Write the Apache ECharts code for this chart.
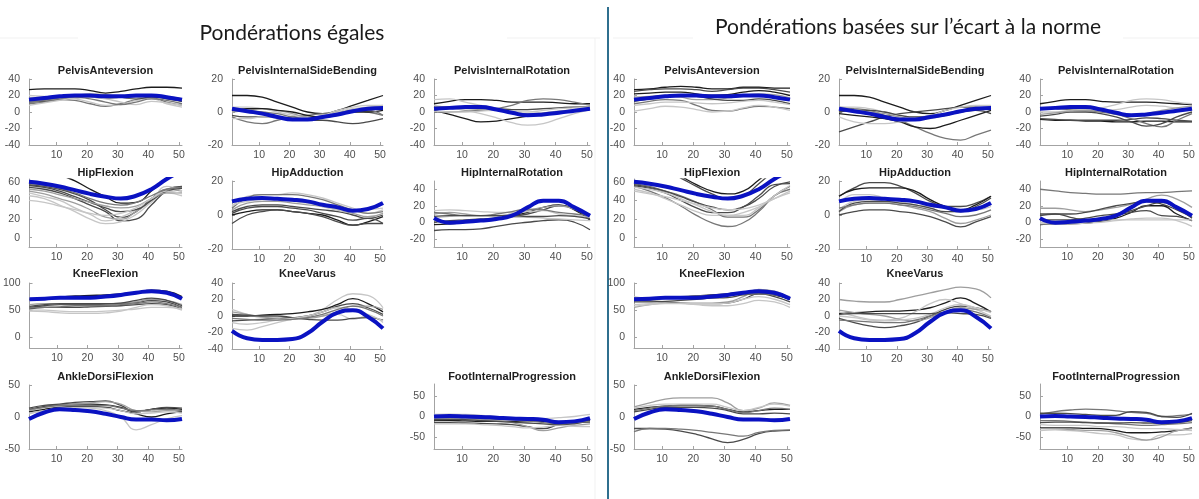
<!DOCTYPE html>
<html><head><meta charset="utf-8">
<script src="https://cdn.jsdelivr.net/npm/echarts@6/dist/echarts.min.js"></script>
<style>html,body{margin:0;padding:0;background:#fff}#c{width:1199px;height:499px}</style>
</head><body><div id="c"></div>
<script>
// ---------------- DATA ----------------
const X = [1, 6, 11, 16, 21, 26, 31, 36, 41, 46, 51];
const X_TICKS = [10, 20, 30, 40, 50];
const TITLE_LEFT = 'Pondérations égales';
const TITLE_RIGHT = 'Pondérations basées sur l’écart à la norme';

// reference (blue) curves, identical in both panels
const BLUE_PELVIS_ANT  = [15, 17, 19, 20, 20, 19, 19, 20, 20, 18, 15];
const BLUE_PELVIS_SIDE = [2, 0.5, -1, -3, -4.5, -4.5, -3, -1.5, 0.5, 2, 2.5];
const BLUE_PELVIS_ROT  = [4, 5, 6, 6, 3, -1, -4, -3, -1, 1.5, 4];
const BLUE_HIP_FLEX    = [60, 58, 55, 51, 47, 44, 42, 45, 52, 63, 72];
const BLUE_HIP_ADD     = [8, 9.5, 10, 9.5, 9, 8, 6, 4.5, 2.5, 3.5, 7];
const BLUE_HIP_ROT     = [5, -0.5, 0.5, 2, 4, 8, 18, 26, 26, 18, 8];
const BLUE_KNEE_FLEX   = [70, 71, 73, 73, 73, 75, 78, 82, 85, 82, 71];
const BLUE_KNEE_VAR    = [-18, -27, -29, -29, -28, -21, -7, 4, 7, -1, -15];
const BLUE_ANKLE       = [-3, 7, 12, 11, 9, 5, 0, -4, -4, -5, -3];
const BLUE_FOOT        = [0, 1, 0, -1, -3, -5, -6, -8, -14, -12, -4];

// ---- left panel (equal weights) gray curves ----
const L_PELVIS_ANT = [
  [27, 28, 28, 28, 26, 23, 25, 28, 30, 30, 29],
  [12, 13, 15, 17, 18, 17, 18, 20, 20, 17, 13],
  [10, 12, 15, 14, 10, 7, 10, 15, 17, 12, 8],
  [20, 19, 18, 16, 12, 8, 9, 14, 16, 10, 6],
  [14, 15, 17, 19, 20, 20, 18, 16, 18, 16, 13],
  [17, 17, 18, 20, 22, 21, 18, 17, 20, 19, 16],
  [8, 11, 14, 17, 18, 16, 12, 9, 13, 11, 8],
  [12, 14, 17, 18, 16, 12, 9, 12, 16, 14, 10]];
const L_PELVIS_SIDE = [
  [10, 10, 9, 6, 3, 0, -1, 1, 4, 7, 10],
  [-3, -6, -7, -5, -3, -2, -1, 0, 1, 0, -2],
  [-2, -3, -3, -3, -4, -5, -5, -6, -7, -6, -4],
  [3, 3, 2, 0, -2, -3, -2, 1, 3, 4, 4],
  [0, 1, 2, 1, -1, -3, -3, -1, 1, 2, 3],
  [-4, -4, -3, -3, -4, -4, -3, 0, 2, 3, 4],
  [1, 2, 2, 1, 0, -2, -3, -2, 0, 0, 1],
  [2, 1, 0, -1, -3, -4, -3, -1, 1, 1, -2]];
const L_PELVIS_ROT = [
  [10, 13, 15, 15, 14, 12, 12, 12, 11, 10, 10],
  [2, -3, -8, -12, -11, -8, -5, -3, -1, 2, 4],
  [8, 5, 2, -2, -7, -13, -16, -14, -8, -2, 3],
  [0, 0, 1, 2, 4, 8, 14, 16, 15, 12, 8],
  [15, 16, 12, 8, 5, 3, 3, 4, 5, 6, 7],
  [3, 4, 4, 3, 2, 0, -2, -1, 1, 3, 5],
  [6, 6, 5, 5, 4, 3, 3, 4, 5, 6, 6],
  [1, 0, 0, 1, 2, 1, 0, 2, 4, 5, 6]];
const L_HIP_FLEX = [
  [57, 55, 52, 47, 40, 30, 22, 28, 42, 52, 55],
  [54, 52, 48, 42, 35, 28, 18, 20, 35, 50, 54],
  [50, 47, 42, 37, 30, 22, 20, 28, 40, 52, 50],
  [45, 42, 35, 28, 20, 15, 17, 25, 38, 48, 45],
  [48, 44, 40, 32, 25, 18, 22, 30, 40, 55, 50],
  [56, 54, 50, 44, 38, 32, 28, 30, 40, 50, 53],
  [90, 78, 68, 61, 52, 44, 37, 38, 50, 65, 80],
  [52, 50, 46, 42, 38, 34, 32, 34, 42, 48, 48],
  [40, 38, 34, 30, 26, 24, 26, 32, 42, 50, 47],
  [58, 56, 53, 48, 42, 37, 35, 38, 45, 52, 54]];
const L_HIP_ADD = [
  [5, 11, 12, 12, 13, 12, 10, 7, 4, 1, 3],
  [4, 10, 12, 12, 12, 11, 9, 6, 3, 1, 2],
  [2, 5, 6, 6, 5, 4, 3, 2, 0, -2, 0],
  [0, 2, 3, 3, 2, 1, 0, -3, -6, -4, -1],
  [-5, 0, 2, 3, 2, 1, -1, -4, -6, -5, -5],
  [3, 7, 8, 8, 7, 6, 5, 3, 1, -1, 1],
  [6, 8, 9, 9, 8, 7, 5, 3, 2, 3, 4],
  [1, 4, 5, 5, 4, 3, 1, -1, -3, -2, -5]];
const L_HIP_ROT = [
  [-10, -9, -9, -8, -5, -2, 0, 2, 3, 0, -9],
  [-3, -2, 0, 2, 5, 8, 12, 18, 21, 15, 3],
  [0, 2, 3, 4, 5, 7, 10, 15, 20, 16, 2],
  [10, 12, 10, 8, 8, 10, 14, 18, 20, 16, 10],
  [14, 15, 14, 13, 12, 12, 13, 14, 10, 8, 6],
  [5, 7, 8, 8, 7, 6, 6, 5, 4, 3, 2],
  [12, 10, 8, 8, 10, 13, 16, 15, 12, 10, 8],
  [7, 8, 8, 8, 8, 8, 7, 7, 8, 7, 4]];
const L_KNEE_FLEX = [
  [70, 71, 74, 76, 77, 78, 80, 83, 87, 85, 75],
  [55, 58, 60, 60, 60, 61, 62, 64, 68, 65, 55],
  [52, 55, 55, 55, 56, 57, 58, 60, 62, 60, 52],
  [60, 62, 62, 62, 62, 62, 63, 65, 70, 68, 60],
  [48, 47, 45, 44, 44, 45, 48, 55, 60, 58, 50],
  [50, 50, 48, 47, 47, 48, 50, 52, 55, 55, 52],
  [54, 55, 56, 58, 58, 58, 60, 62, 65, 62, 55],
  [57, 60, 62, 62, 62, 62, 63, 68, 72, 68, 58]];
const L_KNEE_VAR = [
  [8, 2, -2, -3, -2, 0, 8, 20, 27, 25, 10],
  [0, 0, 1, 2, 3, 5, 8, 14, 21, 15, 5],
  [-6, -5, -4, -3, -2, 0, 5, 12, 15, 10, 2],
  [-15, -17, -13, -8, -4, -2, 0, 2, -4, 0, -8],
  [5, 2, -1, -3, -4, -3, 0, 5, 12, 12, 8],
  [2, 1, 0, 0, -2, -4, -5, -5, -3, -2, -5],
  [-8, -10, -8, -5, -3, 0, 5, 10, 8, 2, -6],
  [-3, -4, -5, -5, -4, -2, 2, 8, 12, 8, 0]];
const L_ANKLE = [
  [5, 10, 14, 15, 14, 10, 0, -20, -12, -3, 2],
  [12, 16, 19, 20, 20, 19, 15, 8, 12, 14, 12],
  [14, 18, 20, 23, 24, 25, 18, 8, 12, 15, 14],
  [10, 15, 18, 20, 22, 24, 20, 10, 8, 10, 9],
  [8, 12, 15, 16, 16, 15, 10, 5, 0, 5, 8],
  [6, 10, 14, 15, 15, 14, 10, 5, 6, 8, 6],
  [12, 15, 18, 18, 18, 18, 14, 10, 11, 12, 10]];
const L_FOOT = [
  [5, 6, 5, 3, 0, -3, -5, -5, -3, 0, 5],
  [-10, -10, -11, -12, -12, -12, -11, -12, -14, -12, -10],
  [-15, -15, -16, -17, -18, -20, -25, -30, -20, -16, -14],
  [-5, -5, -6, -8, -10, -15, -25, -35, -28, -22, -18],
  [-18, -18, -18, -20, -22, -25, -28, -26, -22, -24, -25],
  [-8, -7, -8, -10, -12, -14, -16, -18, -20, -18, -8],
  [-3, -2, -3, -5, -7, -8, -10, -15, -18, -15, -12]];

// ---- right panel (norm-deviation weights) gray curves ----
const R_PELVIS_ANT = [
  [27, 28, 30, 31, 30, 28, 28, 30, 30, 29, 29],
  [25, 27, 28, 28, 27, 25, 27, 29, 29, 27, 24],
  [10, 13, 15, 14, 8, 2, 1, 4, 7, 6, 4],
  [1, 4, 7, 6, 3, 0, 1, 5, 8, 6, 2],
  [18, 19, 20, 18, 15, 15, 17, 20, 22, 21, 17],
  [13, 16, 19, 20, 19, 16, 14, 14, 16, 14, 10],
  [22, 23, 24, 24, 22, 20, 21, 24, 26, 24, 20],
  [8, 10, 12, 12, 11, 10, 11, 13, 14, 12, 9]];
const R_PELVIS_SIDE = [
  [10, 10, 9, 6, 3, 0, -1, 1, 4, 7, 10],
  [-12, -9, -6, -3, -1, 0, 1, 2, 3, 3, 2],
  [3, 2, 1, -2, -5, -9, -13, -16, -17, -14, -11],
  [-1, -2, -3, -4, -6, -9, -10, -8, -5, -2, 1],
  [-3, -6, -7, -7, -6, -5, -4, -2, 0, 1, 2],
  [3, 3, 2, 0, -2, -3, -2, 1, 3, 4, 4],
  [0, 1, 1, 0, -2, -3, -3, -2, 0, 1, -1],
  [1, 1, 0, -1, -3, -4, -3, -1, 1, 2, 3]];
const R_PELVIS_ROT = [
  [10, 13, 15, 15, 13, 12, 12, 12, 11, 10, 9],
  [-9, -10, -10, -11, -11, -12, -12, -11, -11, -12, -12],
  [-8, -9, -10, -10, -10, -10, -9, -7, -8, -10, -11],
  [5, 4, 3, 2, 0, -3, -8, -14, -18, -10, -2],
  [0, 0, 2, 3, 5, 9, 14, 16, 15, 12, 10],
  [-5, -3, 0, 0, -2, -6, -12, -17, -14, -6, 0],
  [3, 6, 5, 3, 2, 3, 6, 8, 7, 5, 4],
  [-3, -1, 1, 2, 1, -2, -4, -2, 2, 5, 7]];
const R_HIP_FLEX = [
  [95, 85, 75, 66, 57, 50, 47, 50, 62, 75, 90],
  [92, 82, 72, 64, 55, 47, 42, 45, 58, 72, 85],
  [56, 53, 48, 40, 32, 27, 27, 33, 45, 57, 58],
  [55, 50, 43, 34, 24, 16, 12, 16, 28, 45, 55],
  [52, 48, 42, 35, 28, 24, 24, 27, 33, 42, 50],
  [58, 55, 50, 45, 38, 30, 22, 22, 30, 45, 52],
  [54, 52, 48, 42, 35, 28, 24, 24, 32, 45, 56],
  [57, 54, 50, 44, 38, 33, 30, 33, 42, 55, 60],
  [50, 47, 44, 40, 36, 32, 30, 31, 35, 42, 48]];
const R_HIP_ADD = [
  [11, 16, 19, 19, 17, 13, 8, 5, 5, 7, 11],
  [11, 15, 16, 16, 16, 14, 9, 5, 3, 6, 11],
  [0, 2, 3, 3, 2, 1, -1, -4, -7, -4, -1],
  [2, 6, 7, 7, 6, 4, 2, -2, -5, -3, 0],
  [3, 8, 9, 8, 7, 6, 4, 2, 2, 4, 6],
  [7, 12, 12, 10, 8, 6, 5, 4, 3, 3, 5],
  [2, 7, 8, 8, 7, 6, 4, 2, 2, 5, 10],
  [4, 6, 7, 7, 6, 5, 3, 1, -1, 0, 3]];
const R_HIP_ROT = [
  [40, 38, 36, 35, 34, 34, 35, 36, 36, 37, 38],
  [17, 17, 15, 13, 15, 18, 22, 28, 33, 28, 18],
  [10, 10, 10, 12, 16, 20, 23, 25, 22, 15, 6],
  [-3, -2, -2, -1, 1, 5, 12, 20, 20, 10, 2],
  [8, 10, 6, 3, 4, 8, 12, 14, 8, 7, 2],
  [0, 0, 1, 2, 3, 3, 3, 3, 3, 3, 3],
  [-2, -2, -2, -1, 0, 2, 4, 5, 5, 2, -5],
  [3, 3, 3, 5, 8, 10, 14, 20, 24, 17, 5]];
const R_KNEE_FLEX = [
  [75, 72, 72, 74, 76, 77, 78, 82, 85, 82, 75],
  [55, 60, 63, 63, 63, 63, 65, 75, 88, 85, 70],
  [68, 67, 65, 63, 62, 62, 63, 70, 80, 78, 70],
  [65, 65, 66, 68, 70, 72, 73, 78, 80, 75, 65],
  [60, 62, 63, 63, 62, 62, 63, 70, 75, 70, 60],
  [70, 70, 72, 74, 76, 78, 80, 82, 82, 78, 70],
  [57, 60, 62, 62, 60, 58, 58, 62, 68, 65, 55],
  [72, 72, 73, 75, 76, 77, 78, 80, 80, 78, 72]];
const R_KNEE_VAR = [
  [20, 18, 17, 17, 20, 24, 28, 32, 35, 33, 22],
  [3, 4, 5, 6, 6, 7, 10, 16, 22, 15, 5],
  [-3, -8, -12, -14, -12, -8, 0, 8, 12, 10, 5],
  [5, 0, -4, -5, -3, 5, 15, 20, 15, 8, 0],
  [7, 4, 2, 0, -4, -6, -2, 5, 10, 8, 6],
  [0, -2, -5, -6, -5, -3, 2, 10, 14, 10, 4],
  [2, 3, 3, 3, 3, 3, 3, 4, 3, 2, -3],
  [-5, -6, -7, -8, -8, -5, 0, 5, 8, 5, -2]];
const R_ANKLE = [
  [16, 22, 28, 30, 30, 30, 22, 10, 14, 22, 18],
  [-18, -18, -19, -22, -27, -34, -40, -35, -26, -22, -21],
  [-23, -18, -18, -19, -21, -24, -27, -30, -24, -21, -20],
  [12, 15, 17, 18, 18, 17, 12, 8, 10, 12, 12],
  [8, 12, 15, 15, 15, 14, 10, 5, 5, 6, 5],
  [14, 18, 20, 20, 20, 20, 15, 10, 15, 20, 17],
  [10, 14, 17, 18, 18, 17, 12, 7, 10, 14, 12]];
const R_FOOT = [
  [5, 12, 16, 18, 17, 14, 10, 8, 0, 2, 6],
  [8, 8, 7, 5, 3, 3, 12, 10, 0, -2, 8],
  [-28, -28, -28, -29, -30, -35, -40, -40, -38, -35, -28],
  [-35, -33, -35, -38, -42, -45, -55, -58, -45, -45, -42],
  [-30, -30, -32, -34, -35, -40, -50, -58, -50, -35, -30],
  [-10, -10, -12, -14, -16, -18, -20, -22, -20, -18, -15],
  [-20, -22, -22, -22, -25, -25, -28, -30, -30, -32, -35],
  [-15, -14, -14, -15, -16, -16, -15, -16, -17, -15, -10]];

// ---------------- LAYOUT / STYLE ----------------
const SHADE = {k: '#1c1c1c', d: '#4a4a4a', m: '#777777', g: '#9e9e9e', l: '#c6c6c6'};
const BLUE = '#0a12c2';
const FONT = '"Liberation Sans", Arial, sans-serif';
const TITLE_FONT = '21px Lato, "Open Sans", sans-serif';
const COLS = [[29, 153], [232, 151], [434, 156], [634, 156], [839, 152], [1040, 152]];
const ROWS = [[79, 66, 71], [180, 67, 173], [283, 65, 274], [385, 64, 377]];

const PLOTS = [
  {t: 'PelvisAnteversion', c: 0, r: 0, g: L_PELVIS_ANT, b: BLUE_PELVIS_ANT, s: 'kdmldglm', y: [-40, 40], yt: [-40, -20, 0, 20, 40]},
  {t: 'PelvisInternalSideBending', c: 1, r: 0, g: L_PELVIS_SIDE, b: BLUE_PELVIS_SIDE, s: 'kmdlglkm', y: [-20, 20], yt: [-20, 0, 20]},
  {t: 'PelvisInternalRotation', c: 2, r: 0, g: L_PELVIS_ROT, b: BLUE_PELVIS_ROT, s: 'kklmlgdl', y: [-40, 40], yt: [-40, -20, 0, 20, 40]},
  {t: 'HipFlexion', c: 0, r: 1, g: L_HIP_FLEX, b: BLUE_HIP_FLEX, s: 'ddglldkglm', y: [-10, 63], yt: [0, 20, 40, 60], dy: -1, dh: 1},
  {t: 'HipAdduction', c: 1, r: 1, g: L_HIP_ADD, b: BLUE_HIP_ADD, s: 'lmdkdgld', y: [-20, 20], yt: [-20, 0, 20], dy: 1, dh: 1},
  {t: 'HipInternalRotation', c: 2, r: 1, g: L_HIP_ROT, b: BLUE_HIP_ROT, s: 'dkdgllmd', y: [-30, 50], yt: [-20, 0, 20, 40], dy: 1, dh: -1},
  {t: 'KneeFlexion', c: 0, r: 2, g: L_KNEE_FLEX, b: BLUE_KNEE_FLEX, s: 'kddgllmd', y: [-20, 100], yt: [0, 50, 100]},
  {t: 'KneeVarus', c: 1, r: 2, g: L_KNEE_VAR, b: BLUE_KNEE_VAR, s: 'lkdlgdlm', y: [-40, 40], yt: [-40, -20, 0, 20, 40], dh: 1},
  {t: 'AnkleDorsiFlexion', c: 0, r: 3, g: L_ANKLE, b: BLUE_ANKLE, s: 'lkdgklm', y: [-50, 50], yt: [-50, 0, 50]},
  {t: 'FootInternalProgression', c: 2, r: 3, g: L_FOOT, b: BLUE_FOOT, s: 'lkdgldm', y: [-80, 80], yt: [-50, 0, 50], dy: -1, dh: 1},

  {t: 'PelvisAnteversion', c: 3, r: 0, g: R_PELVIS_ANT, b: BLUE_PELVIS_ANT, s: 'kdmlgdkl', y: [-40, 40], yt: [-40, -20, 0, 20, 40]},
  {t: 'PelvisInternalSideBending', c: 4, r: 0, g: R_PELVIS_SIDE, b: BLUE_PELVIS_SIDE, s: 'kdmklldg', y: [-20, 20], yt: [-20, 0, 20]},
  {t: 'PelvisInternalRotation', c: 5, r: 0, g: R_PELVIS_ROT, b: BLUE_PELVIS_ROT, s: 'kkdmldlg', y: [-40, 40], yt: [-40, -20, 0, 20, 40]},
  {t: 'HipFlexion', c: 3, r: 1, g: R_HIP_FLEX, b: BLUE_HIP_FLEX, s: 'kddmlmldl', y: [-10, 63], yt: [0, 20, 40, 60], dy: -1, dh: 1},
  {t: 'HipAdduction', c: 4, r: 1, g: R_HIP_ADD, b: BLUE_HIP_ADD, s: 'dkdglldm', y: [-20, 20], yt: [-20, 0, 20], dy: 1, dh: 1},
  {t: 'HipInternalRotation', c: 5, r: 1, g: R_HIP_ROT, b: BLUE_HIP_ROT, s: 'mgdkdlld', y: [-30, 50], yt: [-20, 0, 20, 40], dy: 1, dh: -1},
  {t: 'KneeFlexion', c: 3, r: 2, g: R_KNEE_FLEX, b: BLUE_KNEE_FLEX, s: 'lgddlklm', y: [-20, 100], yt: [0, 50, 100]},
  {t: 'KneeVarus', c: 4, r: 2, g: R_KNEE_VAR, b: BLUE_KNEE_VAR, s: 'gkdlgldm', y: [-40, 40], yt: [-40, -20, 0, 20, 40], dh: 1},
  {t: 'AnkleDorsiFlexion', c: 3, r: 3, g: R_ANKLE, b: BLUE_ANKLE, s: 'gdmkdlm', y: [-50, 50], yt: [-50, 0, 50]},
  {t: 'FootInternalProgression', c: 5, r: 3, g: R_FOOT, b: BLUE_FOOT, s: 'mdklgmld', y: [-80, 80], yt: [-50, 0, 50], dy: -1, dh: 1}
];

const AXIS_COLOR = '#a3a3a3';
const LABEL_STYLE = {color: '#4f4f4f', fontSize: 10.5, fontFamily: FONT};

const grid = [], xAxis = [], yAxis = [], series = [];
const graphic = [];

PLOTS.forEach((p, i) => {
  const [left, width] = COLS[p.c];
  const [top0, h0, ty] = ROWS[p.r];
  const top = top0 + (p.dy || 0), height = h0 + (p.dh || 0);
  grid.push({left, top, width, height, containLabel: false});
  xAxis.push({
    type: 'value', gridIndex: i, min: 1, max: 51,
    axisLine: {show: true, onZero: false, lineStyle: {color: AXIS_COLOR, width: 1}},
    axisTick: {show: true, inside: true, length: 3, customValues: X_TICKS, lineStyle: {color: AXIS_COLOR}},
    axisLabel: Object.assign({customValues: X_TICKS, margin: 5}, LABEL_STYLE),
    splitLine: {show: false}
  });
  yAxis.push({
    type: 'value', gridIndex: i, min: p.y[0], max: p.y[1],
    axisLine: {show: true, onZero: false, lineStyle: {color: AXIS_COLOR, width: 1}},
    axisTick: {show: true, inside: true, length: 3, customValues: p.yt, lineStyle: {color: AXIS_COLOR}},
    axisLabel: Object.assign({customValues: p.yt, margin: 9}, LABEL_STYLE),
    splitLine: {show: false}
  });
  p.g.forEach((arr, j) => {
    series.push({
      type: 'line', xAxisIndex: i, yAxisIndex: i, smooth: true, symbol: 'none', silent: true,
      data: X.map((x, k) => [x, arr[k]]), clip: true, z: 2,
      lineStyle: {color: SHADE[p.s[j]] || SHADE.m, width: 1.3}
    });
  });
  series.push({
    type: 'line', xAxisIndex: i, yAxisIndex: i, smooth: true, symbol: 'none', silent: true,
    data: X.map((x, k) => [x, p.b[k]]), clip: true, z: 3,
    lineStyle: {color: BLUE, width: 4}
  });
  graphic.push({
    type: 'text', x: left + width / 2, y: ty, silent: true,
    style: {text: p.t, fill: '#1e1e1e', font: 'bold 11px ' + FONT, align: 'center', verticalAlign: 'middle', textAlign: 'center', textVerticalAlign: 'middle'}
  });
});

// panel titles
graphic.push({type: 'text', x: 292, y: 33, silent: true,
  style: {text: TITLE_LEFT, fill: '#1a1a1a', font: TITLE_FONT, align: 'center', verticalAlign: 'middle', textAlign: 'center', textVerticalAlign: 'middle'}});
graphic.push({type: 'text', x: 908, y: 27, silent: true,
  style: {text: TITLE_RIGHT, fill: '#1a1a1a', font: TITLE_FONT, align: 'center', verticalAlign: 'middle', textAlign: 'center', textVerticalAlign: 'middle'}});
// divider
graphic.push({type: 'line', silent: true, shape: {x1: 608, y1: 7, x2: 608, y2: 499}, style: {stroke: '#2f6f8e', lineWidth: 2}});
// faint edges of pasted figures
[[0, 38, 78, 38], [507, 38, 600, 38], [613, 38, 693, 38], [1123, 38, 1199, 38], [595, 38, 595, 499]].forEach(l => {
  graphic.push({type: 'line', silent: true, shape: {x1: l[0], y1: l[1], x2: l[2], y2: l[3]}, style: {stroke: '#f1f1f1', lineWidth: 1}});
});

const chart = echarts.init(document.getElementById('c'), null, {renderer: 'canvas'});
chart.setOption({animation: false, backgroundColor: '#ffffff', grid, xAxis, yAxis, series, graphic});
</script></body></html>
